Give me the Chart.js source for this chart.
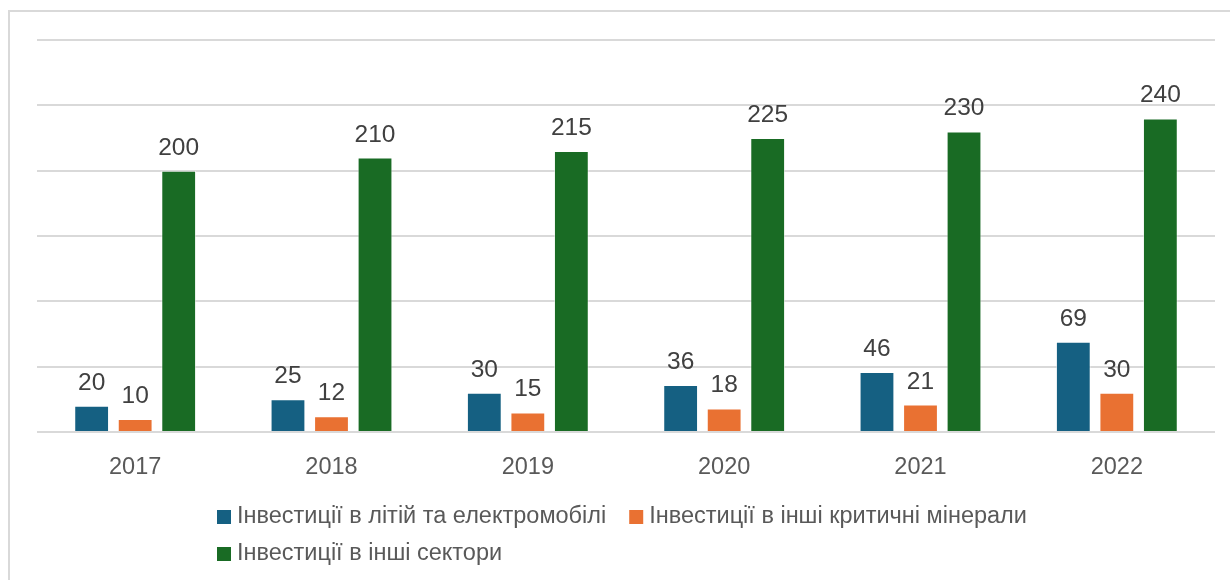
<!DOCTYPE html>
<html>
<head>
<meta charset="utf-8">
<script src="https://cdn.jsdelivr.net/npm/chart.js@4"></script>
<style>
  html, body { margin: 0; padding: 0; background: #fff; overflow: hidden; }
  #wrap { position: relative; width: 1230px; height: 580px; }
  #ramka { position: absolute; left: 8px; top: 10px; width: 1240px; height: 600px;
           border: 2px solid #d9d9d9; box-sizing: border-box; }
  canvas { position: absolute; left: 0; top: 0; }
</style>
</head>
<body>
<div id="wrap">
  <div id="ramka"></div>
  <canvas id="grafico" width="1230" height="580"></canvas>
</div>
<script>
// Дані діаграми
const roky = ['2017', '2018', '2019', '2020', '2021', '2022'];
const litiy = [20, 25, 30, 36, 46, 69];
const mineraly = [10, 12, 15, 18, 21, 30];
const sektory = [200, 210, 215, 225, 230, 240];
const nazvy = [
    'Інвестиції в літій та електромобілі',
    'Інвестиції в інші критичні мінерали',
    'Інвестиції в інші сектори'
];

const shryft = '"Liberation Sans", Arial, sans-serif';

// підписи значень над стовпцями
const pidpysy = {
    id: 'pidpysy',
    afterDatasetsDraw(chart) {
        const c = chart.ctx;
        c.save();
        c.font = '24.5px ' + shryft;
        c.fillStyle = '#404040';
        c.textAlign = 'center';
        c.textBaseline = 'alphabetic';
        chart.data.datasets.forEach((ds, i) => {
            chart.getDatasetMeta(i).data.forEach((bar, j) => {
                c.fillText(ds.data[j], bar.x, bar.y - 16);
            });
        });
        c.restore();
    }
};

// легенда вирівняна ліворуч, у два рядки
const lehenda = {
    id: 'lehenda',
    afterDraw(chart) {
        const c = chart.ctx;
        c.save();
        c.font = '23.5px ' + shryft;
        c.textBaseline = 'middle';
        const rjady = [[0, 1], [2]];
        rjady.forEach((rjad, r) => {
            let x = 217;
            const y = 517 + r * 37;
            rjad.forEach(i => {
                const ds = chart.data.datasets[i];
                c.fillStyle = ds.backgroundColor;
                c.fillRect(x, y - 7, 14, 14);
                c.fillStyle = '#595959';
                c.fillText(ds.label, x + 20, y);
                x += 20 + c.measureText(ds.label).width + 23;
            });
        });
        c.restore();
    }
};

const ctx = document.getElementById('grafico').getContext('2d');
const grafik = new Chart(ctx, {
    type: 'bar',
    data: {
        labels: roky,
        datasets: [
            { label: nazvy[0], data: litiy, backgroundColor: '#156082' },
            { label: nazvy[1], data: mineraly, backgroundColor: '#E97132' },
            { label: nazvy[2], data: sektory, backgroundColor: '#196B24' }
        ]
    },
    options: {
        responsive: false,
        animation: false,
        events: [],
        layout: { padding: { left: 37, right: 15, top: 40, bottom: 0 } },
        datasets: {
            bar: {
                categoryPercentage: 0.665,
                barPercentage: 0.8,
                borderColor: 'rgba(255,255,255,0.5)',
                borderWidth: 1
            }
        },
        plugins: {
            legend: { display: false },
            tooltip: { enabled: false }
        },
        scales: {
            x: {
                grid: { display: false },
                border: { display: false },
                ticks: { color: '#595959', font: { family: shryft, size: 23.5 }, padding: 13 },
                afterFit(s) { s.height = 148; }
            },
            y: {
                min: 0,
                max: 300,
                ticks: { stepSize: 50, display: false },
                grid: { color: '#d9d9d9', lineWidth: 2, drawTicks: false },
                border: { display: false },
                afterFit(s) { s.width = 0; }
            }
        }
    },
    plugins: [pidpysy, lehenda]
});
</script>
</body>
</html>
